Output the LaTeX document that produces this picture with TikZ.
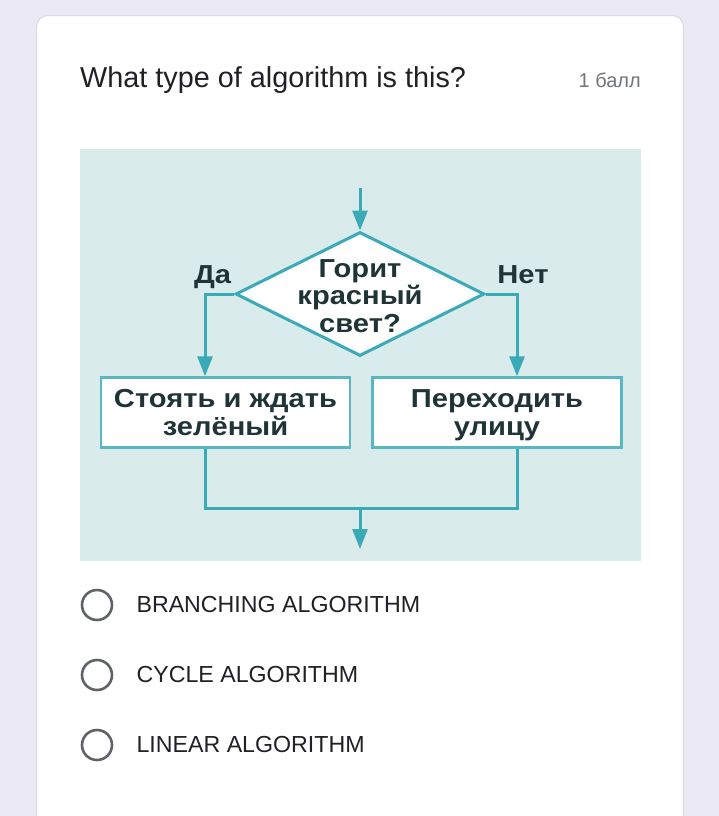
\documentclass[tikz,border=0pt]{standalone}
\usepackage{fontspec}
\setmainfont{Liberation Sans}
\newfontfamily\flowfam[FakeStretch=1.12]{Liberation Sans}
\usetikzlibrary{arrows.meta,shapes.geometric}
\definecolor{pagebg}{HTML}{ECE9F7}
\definecolor{cardline}{HTML}{DEDAEA}
\definecolor{diagbg}{HTML}{D9EBEB}
\definecolor{flowcol}{HTML}{3BAAB7}
\definecolor{flowtext}{HTML}{1F3436}
\definecolor{titlecol}{HTML}{202124}
\definecolor{greytext}{HTML}{70757A}
\definecolor{radiocol}{HTML}{5F6368}
\newcommand{\toprule}{\rule{0pt}{23.5pt}}
\newcommand{\botrule}{\rule[-6pt]{0pt}{6pt}}
\tikzset{
  flow/.style={draw=flowcol, line width=3pt},
  flowtip/.style={flow, -{Triangle[length=20pt,width=15pt]}},
  decision/.style={diamond, draw=flowcol, line width=3pt, fill=white, inner sep=0pt, minimum width=249pt, minimum height=124pt},
  action/.style={rectangle, draw=flowcol!85, line width=2.5pt, fill=white, minimum width=249pt, minimum height=70pt, align=center, inner sep=0pt},
  flowfont/.style={font=\flowfam\fontsize{26}{28}\selectfont\bfseries, text=flowtext},
  radio/.style={circle, draw=radiocol, line width=2.6pt, minimum size=30pt, inner sep=0pt},
  optlabel/.style={anchor=west, font=\fontsize{23.2}{26}\selectfont, text=titlecol}
}
\begin{document}
\begin{tikzpicture}[x=1pt,y=-1pt]
\useasboundingbox (0,0) rectangle (719,816);
\clip (0,0) rectangle (719,816);
\fill[pagebg] (0,0) rectangle (719,816);
\draw[cardline, fill=white, line width=1.2pt, rounded corners=11pt] (36.5,15.5) rectangle (683.5,860);
\node[anchor=base west, inner sep=0pt, font=\fontsize{28.8}{32}\selectfont, text=titlecol] (title) at (80,88) {What type of algorithm is this?};
\node[anchor=base east, inner sep=0pt, font=\fontsize{20}{22}\selectfont, text=greytext] (points) at (641,87) {1 балл};
% diagram
\fill[diagbg] (80,149) rectangle (641,561);
\node[decision] (dec) at (360,294) {};
\node[flowfont, align=center, inner sep=0pt, font=\flowfam\fontsize{26}{27.5}\selectfont\bfseries] (dectext) at (360,296) {Горит\\красный\\свет?};
\node[flowfont, anchor=base, inner sep=0pt] (yes) at (212.5,283) {Да};
\node[flowfont, anchor=base, inner sep=0pt] (no) at (523,283) {Нет};
\node[action, flowfont] (lbox) at (225.5,412.5) {\toprule Стоять и ждать\\зелёный\botrule};
\node[action, flowfont] (rbox) at (497,412.5) {\toprule Переходить\\улицу\botrule};
\coordinate (start) at (360,188);
\coordinate (join) at (360,508);
\coordinate (finish) at (360,549);
\draw[flowtip] (start) -- (dec.north);
\draw[flowtip] (dec.west) -| ([xshift=-20.5pt]lbox.north);
\draw[flowtip] (dec.east) -| ([xshift=20pt]rbox.north);
\draw[flow] ([xshift=-20.5pt]lbox.south) |- (join) -| ([xshift=20pt]rbox.south);
\draw[flowtip] (join) -- (finish);
% options
\node[radio] (r1) at (97,605) {};
\node[radio] (r2) at (97,675) {};
\node[radio] (r3) at (97,745) {};
\node[optlabel] (o1) at (133,605) {BRANCHING ALGORITHM};
\node[optlabel] (o2) at (133,675) {CYCLE ALGORITHM};
\node[optlabel] (o3) at (133,745) {LINEAR ALGORITHM};
\end{tikzpicture}
\end{document}
